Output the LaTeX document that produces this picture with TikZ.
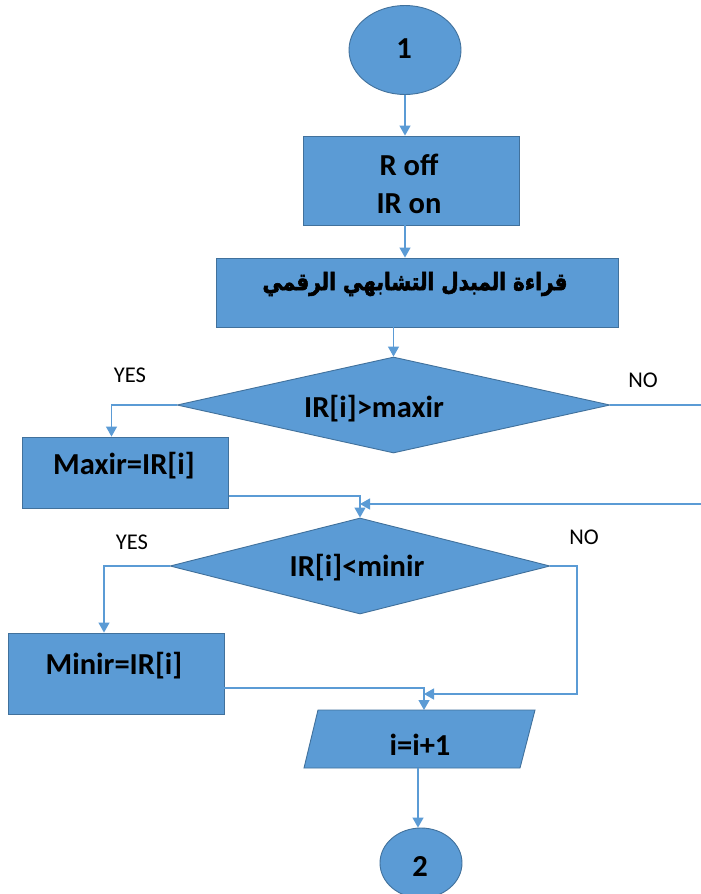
\documentclass[tikz,border=0pt]{standalone}
\usepackage{graphicx}
\usepackage{fontspec}
\setmainfont{Carlito}
\newfontfamily\arabicfont[Script=Arabic,FakeBold=2.5]{DejaVu Sans}
\TeXXeTstate=1
\usetikzlibrary{shapes.geometric,arrows.meta,calc}
\definecolor{boxfill}{HTML}{5B9BD5}
\definecolor{boxline}{HTML}{41719C}
\definecolor{linkcol}{HTML}{5B9BD5}
\begin{document}
\begin{tikzpicture}[x=1pt,y=-1pt,
  shapebox/.style={draw=boxline,fill=boxfill,line width=0.9pt,inner sep=0pt},
  procbox/.style={shapebox,rectangle},
  termnode/.style={shapebox,ellipse},
  testnode/.style={shapebox,diamond},
  lbl/.style={font=\fontsize{30.5}{38}\selectfont\bfseries,text=black,align=center,inner sep=0pt},
  ans/.style={font=\fontsize{22.5}{24}\selectfont,text=black,inner sep=0pt},
  conn/.style={draw=linkcol,line width=1.3pt,-{Triangle[width=11pt,length=10pt]}},
  plain/.style={draw=linkcol,line width=1.3pt}
]
\fill[white] (0,0) rectangle (701,894);
\useasboundingbox (0,0) rectangle (701,894);
\clip (0,0) rectangle (701,894);

% shapes
\node[termnode,minimum width=112,minimum height=89] (e1) at (405,50) {};
\node[procbox,minimum width=216,minimum height=89] (rb) at (411,180.5) {};
\node[procbox,minimum width=402,minimum height=69] (ar) at (417,292.5) {};
\node[testnode,minimum width=433,minimum height=96] (d1) at (393.5,405) {};
\node[procbox,minimum width=206,minimum height=71] (mx) at (125.5,472.5) {};
\node[testnode,minimum width=380,minimum height=96] (d2) at (360,566) {};
\node[procbox,minimum width=216,minimum height=81] (mn) at (116,673.5) {};
% input/output parallelogram
\coordinate (ioN) at (424,710);
\coordinate (ioS) at (418,768);
\filldraw[draw=boxline,fill=boxfill,line width=0.9pt]
  (318,710) -- (535,710) -- (520,768) -- (304,768) -- cycle;
\node[termnode,minimum width=82,minimum height=70] (e2) at (421,863) {};

% texts
\node[lbl] (t1) at (404,49) {1};
\node[lbl] (trb) at (409,184) {R off\\IR on};
\node[lbl] (tar) at (415,284) {\scalebox{1}[1.2]{\arabicfont\fontsize{20}{24}\selectfont\beginR قراءة المبدل التشابهي الرقمي\endR}};
\node[lbl] (td1) at (374,409) {IR[i]>maxir};
\node[lbl] (tmx) at (124,466) {Maxir=IR[i]};
\node[lbl] (td2) at (357,568) {IR[i]<minir};
\node[lbl] (tmn) at (114,666) {Minir=IR[i]};
\node[lbl] (tio) at (420,745) {i=i+1};
\node[lbl] (t2) at (420,866) {2};

\node[ans] (y1) at (130,375) {YES};
\node[ans] (n1) at (643,380) {NO};
\node[ans] (y2) at (132,542) {YES};
\node[ans] (n2) at (584,537) {NO};

% free ends at the page edge
\coordinate (out1) at (701,405);
\coordinate (in1) at (701,504);
\coordinate (k2) at (577,694);

% connectors
\draw[conn] (e1.south) -- (e1.south |- rb.north);
\draw[conn] (e1.south |- rb.south) -- (e1.south |- ar.north);
\draw[conn] (d1.north |- ar.south) -- (d1.north);
\draw[conn] (d1.west) -| ($(mx.north)+(-14,0)$);
\draw[plain] (d1.east) -- (d1.east -| out1);
\draw[conn] ($(mx.east)+(0,23.5)$) -| (d2.north);
\draw[conn] (in1) -- (in1 -| d2.north);
\draw[conn] (d2.west) -| ($(mn.north)+(-12,0)$);
\draw[conn] ($(mn.east)+(0,14.5)$) -| (ioN);
\draw[conn] (d2.east) -| (k2) -- (k2 -| ioN);
\draw[conn] (ioS) -- (ioS |- e2.north);
\end{tikzpicture}
\end{document}
